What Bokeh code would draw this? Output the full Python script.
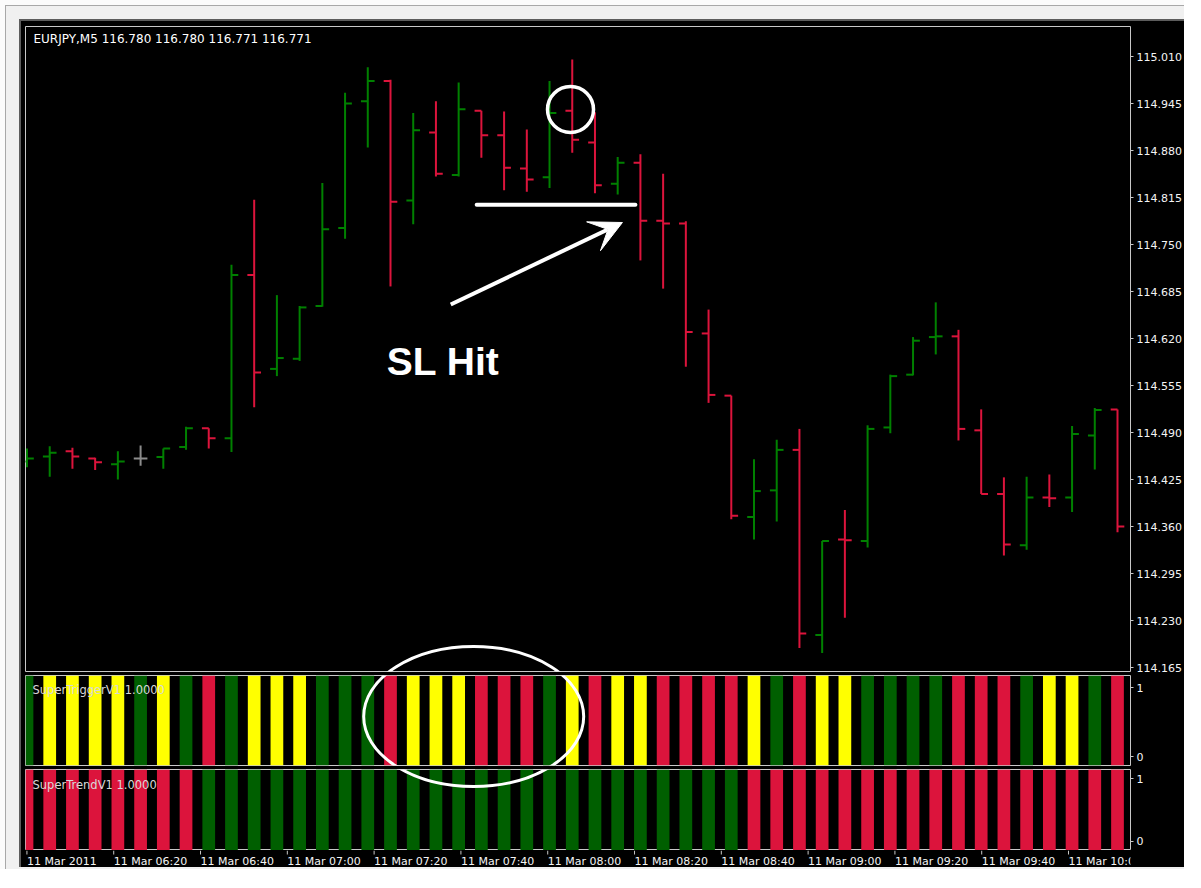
from bokeh.plotting import figure
from bokeh.layouts import column
from bokeh.models import (ColumnDataSource, Range1d, LinearAxis, FixedTicker,
                          NumeralTickFormatter, Label, Arrow, VeeHead)
from bokeh.core.properties import value
from bokeh.embed import file_html
from bokeh.resources import INLINE

# ------------------------------------------------------------------ data
bar_index = [0, 1, 2, 3, 4, 5, 6, 7, 8, 9, 10, 11, 12, 13, 14, 15, 16, 17, 18, 19,
             20, 21, 22, 23, 24, 25, 26, 27, 28, 29, 30, 31, 32, 33, 34, 35, 36, 37,
             38, 39, 40, 41, 42, 43, 44, 45, 46, 47, 48]

opens = [114.450, 114.457, 114.464, 114.454, 114.446, 114.454, 114.456, 114.470,
         114.496, 114.482, 114.708, 114.578, 114.592, 114.665, 114.773, 114.948,
         114.976, 114.811, 114.905, 114.846, 114.935, 114.901, 114.855, 114.843,
         114.935, 114.891, 114.834, 114.863, 114.783, 114.779, 114.627, 114.541,
         114.373, 114.410, 114.466, 114.210, 114.342, 114.340, 114.497, 114.570,
         114.622, 114.623, 114.493, 114.405, 114.334, 114.400, 114.400, 114.486,
         114.522]
highs = [114.468, 114.471, 114.469, 114.455, 114.464, 114.472, 114.468, 114.498,
         114.496, 114.722, 114.812, 114.680, 114.665, 114.835, 114.960, 114.995,
         114.978, 114.932, 114.948, 114.974, 114.935, 114.934, 114.909, 114.976,
         115.006, 114.933, 114.871, 114.875, 114.848, 114.782, 114.660, 114.541,
         114.453, 114.480, 114.495, 114.340, 114.383, 114.500, 114.570, 114.622,
         114.670, 114.632, 114.522, 114.428, 114.429, 114.432, 114.499, 114.524,
         114.522]
lows = [114.442, 114.429, 114.440, 114.438, 114.425, 114.444, 114.440, 114.466,
        114.468, 114.463, 114.525, 114.568, 114.589, 114.664, 114.758, 114.884,
        114.692, 114.778, 114.844, 114.844, 114.870, 114.825, 114.823, 114.828,
        114.877, 114.821, 114.819, 114.728, 114.689, 114.581, 114.531, 114.370,
        114.342, 114.367, 114.192, 114.185, 114.234, 114.331, 114.489, 114.569,
        114.598, 114.479, 114.405, 114.320, 114.328, 114.387, 114.380, 114.439,
        114.352]
closes = [114.454, 114.462, 114.457, 114.449, 114.450, 114.454, 114.468, 114.496,
          114.482, 114.708, 114.573, 114.593, 114.663, 114.771, 114.945, 114.976,
          114.809, 114.908, 114.848, 114.937, 114.901, 114.856, 114.840, 114.932,
          114.895, 114.832, 114.863, 114.783, 114.779, 114.629, 114.542, 114.375,
          114.409, 114.466, 114.212, 114.340, 114.341, 114.495, 114.568, 114.617,
          114.623, 114.495, 114.405, 114.335, 114.400, 114.399, 114.488, 114.521,
          114.360]

# SuperTriggerV1 histogram: G = up, Y = neutral, R = down
trigger_signal = ["G", "Y", "Y", "Y", "Y", "G", "Y", "G", "R", "G", "Y", "Y", "Y",
                  "G", "G", "G", "R", "Y", "Y", "Y", "R", "R", "R", "G", "Y", "R",
                  "Y", "Y", "R", "R", "R", "R", "Y", "G", "R", "Y", "Y", "G", "G",
                  "G", "G", "R", "R", "R", "G", "Y", "Y", "G", "R"]
trigger_values = [1, 1, 1, 1, 1, 1, 1, 1, 1, 1, 1, 1, 1, 1, 1, 1, 1, 1, 1, 1, 1, 1,
                  1, 1, 1, 1, 1, 1, 1, 1, 1, 1, 1, 1, 1, 1, 1, 1, 1, 1, 1, 1, 1, 1,
                  1, 1, 1, 1, 1]
# SuperTrendV1 histogram
trend_signal = ["R", "R", "R", "R", "R", "R", "R", "R", "G", "G", "G", "G", "G",
                "G", "G", "G", "G", "G", "G", "G", "G", "G", "G", "G", "G", "G",
                "G", "G", "G", "G", "G", "G", "R", "R", "R", "R", "R", "R", "R",
                "R", "R", "R", "R", "R", "R", "R", "R", "R", "R"]
trend_values = [1, 1, 1, 1, 1, 1, 1, 1, 1, 1, 1, 1, 1, 1, 1, 1, 1, 1, 1, 1, 1, 1,
                1, 1, 1, 1, 1, 1, 1, 1, 1, 1, 1, 1, 1, 1, 1, 1, 1, 1, 1, 1, 1, 1,
                1, 1, 1, 1, 1]

price_ticks = [114.165, 114.230, 114.295, 114.360, 114.425, 114.490, 114.555,
               114.620, 114.685, 114.750, 114.815, 114.880, 114.945, 115.010]
time_tick_index = [0, 4, 8, 12, 16, 20, 24, 28, 32, 36, 40, 44, 48]
time_tick_labels = ["11 Mar 2011", "11 Mar 06:20", "11 Mar 06:40", "11 Mar 07:00",
                    "11 Mar 07:20", "11 Mar 07:40", "11 Mar 08:00", "11 Mar 08:20",
                    "11 Mar 08:40", "11 Mar 09:00", "11 Mar 09:20", "11 Mar 09:40",
                    "11 Mar 10:00"]

title_text = "EURJPY,M5  116.780 116.780 116.771 116.771"
trigger_name = "SuperTriggerV1 1.0000"
trend_name = "SuperTrendV1 1.0000"
sl_price = 114.805

# ------------------------------------------------------------------ style
UP = "#008000"
DOWN = "#dc143c"
DOJI = "#8c8c8c"
HIST = {"G": "#005f00", "Y": "#ffff00", "R": "#dc143c"}
BORDER = "#c8c8c8"
FONT = "DejaVu Sans"

# layout geometry (pixels of the picture)
W = 1163                      # black chart block: x 22 .. 1185
LEFT, RIGHT = 4, 52           # plot frame: x 26 .. 1133
X0, DX = 27.5, 22.76          # x of bar 0, pixels per bar
MAIN_TOP, MAIN_BOT = 27, 672
Y_HI, Y_LO = 115.0515, 114.1595


def bx(px):
    return (px - X0) / DX


def by(py):
    return Y_HI - (py - MAIN_TOP) * (Y_HI - Y_LO) / (MAIN_BOT - MAIN_TOP)


x_rng = Range1d(bx(26), bx(1133))


def base_fig(height, y_range, top, bottom, x_range, right=RIGHT, y_axis=None,
             outline=BORDER):
    f = figure(width=W, height=height, x_range=x_range, y_range=y_range,
               output_backend="svg", toolbar_location=None,
               x_axis_location=None, y_axis_location=y_axis,
               background_fill_color="black", border_fill_color="black",
               outline_line_color=outline, outline_line_width=1,
               min_border_left=LEFT, min_border_right=right,
               min_border_top=top, min_border_bottom=bottom)
    f.grid.visible = False
    return f


def style_axis(ax):
    ax.axis_line_color = None
    ax.major_tick_in = 0
    ax.major_tick_out = 3
    ax.major_tick_line_color = BORDER
    ax.minor_tick_line_color = None
    ax.major_label_text_color = "#f4f4f4"
    ax.major_label_text_font = FONT
    ax.major_label_text_font_size = "11px"
    ax.major_label_standoff = 3


# ------------------------------------------------------------------ main pane
p_main = base_fig(653, Range1d(Y_LO, Y_HI), 5, 3, x_rng, y_axis="right")
ax = p_main.yaxis[0]
style_axis(ax)
ax.ticker = FixedTicker(ticks=price_ticks)
ax.formatter = NumeralTickFormatter(format="0.000")

bar_colors = [UP if c > o else (DOWN if c < o else DOJI) for o, c in zip(opens, closes)]
ohlc = ColumnDataSource(dict(
    x=bar_index,
    xl=[i - 0.3 for i in bar_index],
    xr=[i + 0.3 for i in bar_index],
    o=opens, h=highs, l=lows, c=closes, color=bar_colors))
p_main.segment(x0="x", y0="l", x1="x", y1="h", source=ohlc, line_color="color", line_width=2)
p_main.segment(x0="xl", y0="o", x1="x", y1="o", source=ohlc, line_color="color", line_width=2)
p_main.segment(x0="x", y0="c", x1="xr", y1="c", source=ohlc, line_color="color", line_width=2)

# annotations
p_main.segment(x0=[bx(478)], y0=[sl_price], x1=[bx(637)], y1=[sl_price],
               line_color="white", line_width=4, line_cap="round")
p_main.add_layout(Arrow(end=VeeHead(size=32, fill_color="white", line_color="white"),
                        x_start=bx(452), y_start=by(305), x_end=bx(624), y_end=by(223),
                        line_color="white", line_width=4))
p_main.circle(x=[bx(572)], y=[by(110)], radius=23, radius_units="screen",
              fill_color=None, line_color="white", line_width=3.5)
p_main.ellipse(x=[bx(475)], y=[by(717)], width=220, height=140,
               width_units="screen", height_units="screen",
               fill_color=None, line_color="white", line_width=3)
p_main.add_layout(Label(x=bx(388), y=by(362), text="SL Hit", text_color="white",
                        text_font="Liberation Sans", text_font_style="bold",
                        text_font_size="39px", text_baseline="alphabetic"))
p_main.add_layout(Label(x=bx(34), y=by(39), text=title_text, text_color="white",
                        text_font=FONT, text_font_size="12px", text_baseline="middle"))

# ------------------------------------------------------------------ SuperTrigger pane
TRIG_TOP, TRIG_BOT = 676, 766
p_trig = base_fig(93, Range1d(0, 1), 1, 2, x_rng)
p_trig.extra_y_ranges = {"scale": Range1d(-0.13, 1.174)}
ax = LinearAxis(y_range_name="scale", ticker=FixedTicker(ticks=[0, 1]))
style_axis(ax)
p_trig.add_layout(ax, "right")
trig_src = ColumnDataSource(dict(x=bar_index, top=trigger_values,
                                 color=[HIST[s] for s in trigger_signal]))
p_trig.vbar(x="x", top="top", bottom=0, width=0.56, source=trig_src,
            fill_color="color", line_color=None)
p_trig.ellipse(x=[bx(475)], y=[1 - (717 - TRIG_TOP) / (TRIG_BOT - TRIG_TOP)],
               width=220, height=140, width_units="screen", height_units="screen",
               fill_color=None, line_color="white", line_width=3)
p_trig.add_layout(Label(x=bx(33), y=1 - (690 - TRIG_TOP) / (TRIG_BOT - TRIG_TOP),
                        text=trigger_name, text_color="#d8d8d8", text_font=FONT,
                        text_font_size="11.5px", text_baseline="middle"))

# ------------------------------------------------------------------ SuperTrend pane
TREND_TOP, TREND_BOT = 770, 851
p_trend = base_fig(83, Range1d(0, 1), 2, 0, x_rng)
p_trend.extra_y_ranges = {"scale": Range1d(-0.143, 1.143)}
ax = LinearAxis(y_range_name="scale", ticker=FixedTicker(ticks=[0, 1]))
style_axis(ax)
p_trend.add_layout(ax, "right")
trend_src = ColumnDataSource(dict(x=bar_index, top=trend_values,
                                  color=[HIST[s] for s in trend_signal]))
p_trend.vbar(x="x", top="top", bottom=0, width=0.56, source=trend_src,
             fill_color="color", line_color=None)
p_trend.ellipse(x=[bx(475)], y=[1 + (TREND_TOP - 717) / (TREND_BOT - TREND_TOP)],
                width=220, height=140, width_units="screen", height_units="screen",
                fill_color=None, line_color="white", line_width=3)
p_trend.add_layout(Label(x=bx(33), y=1 - (785 - TREND_TOP) / (TREND_BOT - TREND_TOP),
                         text=trend_name, text_color="#d8d8d8", text_font=FONT,
                         text_font_size="11.5px", text_baseline="middle"))

# ------------------------------------------------------------------ time axis strip
p_time = base_fig(17, Range1d(0, 17), 0, 0, Range1d(bx(26), bx(1185)), right=0,
                  outline=None)
p_time.segment(x0=time_tick_index, y0=17, x1=time_tick_index, y1=13,
               line_color=BORDER, line_width=1)
p_time.text(x=time_tick_index, y=13, text=time_tick_labels, text_align="left",
            text_baseline="top", text_color="#f4f4f4", text_font=value(FONT),
            text_font_size="11px")

# ------------------------------------------------------------------ layout
chart = column(p_main, p_trig, p_trend, p_time, spacing=0, margin=(13, 0, 2, 13),
               styles={"border-left": "2px solid #5c5c5c",
                       "border-top": "2px solid #5c5c5c",
                       "background-color": "black"})
window = column(chart, margin=(5, 0, 0, 5),
                styles={"background-color": "#f0f0f0",
                        "border-left": "1px solid #a8a8a8",
                        "border-top": "1px solid #a8a8a8"})
layout = column(window, styles={"background-color": "#fbfbfb"})

with open("out.html", "w") as fh:
    fh.write(file_html(layout, INLINE, "EURJPY,M5"))
